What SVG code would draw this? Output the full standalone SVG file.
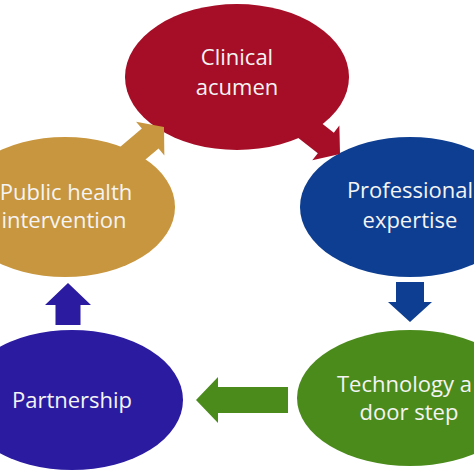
<svg xmlns="http://www.w3.org/2000/svg" width="474" height="474" viewBox="0 0 474 474">
<style>
.lbl{font-family:"Open Sans","Liberation Sans",sans-serif;font-size:22px;fill:#f4f4f4;text-anchor:middle}
</style>
<rect width="474" height="474" fill="#ffffff"/>
<g id="clinical">
<ellipse cx="237" cy="77" rx="112" ry="73" fill="#a50e26"/>
<text class="lbl" x="237" y="65">Clinical</text>
<text class="lbl" x="237" y="95">acumen</text>
</g>
<g id="professional">
<ellipse cx="410" cy="207" rx="110" ry="70" fill="#0d3e91"/>
<text class="lbl" x="410" y="198">Professional</text>
<text class="lbl" x="410" y="228">expertise</text>
</g>
<g id="technology">
<ellipse cx="410" cy="398" rx="113" ry="68" fill="#4b8b1c"/>
<text class="lbl" x="337" y="392" style="text-anchor:start">Technology a</text>
<text class="lbl" x="409" y="420">door step</text>
</g>
<g id="partnership">
<ellipse cx="72" cy="400" rx="111" ry="70" fill="#2b1ba1"/>
<text class="lbl" x="72" y="408">Partnership</text>
</g>
<g id="public-health">
<ellipse cx="65" cy="207" rx="110" ry="70" fill="#c8963e"/>
<text class="lbl" x="66" y="200">Public health</text>
<text class="lbl" x="64" y="228">intervention</text>
</g>
<g id="connectors">
<path d="M0,0 L-18,-22 L-18,-13 L-48,-13 L-48,13 L-18,13 L-18,22 Z" fill="#a50e26" transform="translate(340,154) rotate(38)"/>
<path d="M0,0 L-20,-22 L-20,-14 L-40,-14 L-40,14 L-20,14 L-20,22 Z" fill="#0d3e91" transform="translate(410,322) rotate(90)"/>
<path d="M0,0 L-22,-23 L-22,-13 L-92,-13 L-92,13 L-22,13 L-22,23 Z" fill="#4b8b1c" transform="translate(196,400) rotate(180)"/>
<path d="M0,0 L-22,-23 L-22,-12.5 L-42,-12.5 L-42,12.5 L-22,12.5 L-22,23 Z" fill="#2b1ba1" transform="translate(68,283) rotate(-90)"/>
<path d="M0,0 L-18,-22 L-18,-13 L-48,-13 L-48,13 L-18,13 L-18,22 Z" fill="#c8963e" transform="translate(164,127) rotate(-40)"/>
</g>
</svg>
